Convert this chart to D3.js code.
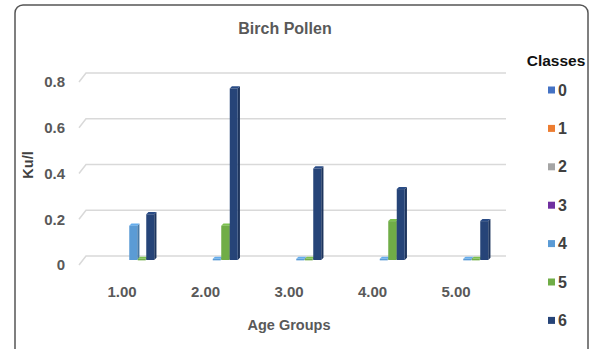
<!DOCTYPE html>
<html><head><meta charset="utf-8">
<script src="https://cdn.jsdelivr.net/npm/d3@7"></script>
<style>body{margin:0;background:#fff}svg{display:block;font-family:"Liberation Sans",Arial,sans-serif}</style>
</head><body><svg id="c" width="597" height="349"></svg>
<script>
const categories = ["1.00","2.00","3.00","4.00","5.00"];
const classes = ["0","1","2","3","4","5","6"];
const classColors = ["#4472C4","#ED7D31","#A5A5A5","#7030A0","#5B9BD5","#70AD47","#264478"];
// values[class][category]
const class0 = [0,0,0,0,0];
const class1 = [0,0,0,0,0];
const class2 = [0,0,0,0,0];
const class3 = [0,0,0,0,0];
const class4 = [0.15,0.005,0.005,0.005,0.005];
const class5 = [0.005,0.15,0.005,0.17,0.005];
const class6 = [0.2,0.75,0.4,0.31,0.17];
const series = [class0,class1,class2,class3,class4,class5,class6];
const yTicks = [0,0.2,0.4,0.6,0.8];
const yTickLabels = ["0","0.2","0.4","0.6","0.8"];

const svg = d3.select("#c");
// frame
svg.append("rect").attr("x",15).attr("y",5).attr("width",573).attr("height",360)
  .attr("rx",8).attr("fill","#fff").attr("stroke","#555").attr("stroke-width",1.5);

const yG = d3.scaleLinear().domain([0,0.8]).range([256,73]);
const yB = d3.scaleLinear().domain([0,0.8]).range([260,77]);
const x0 = d3.scaleBand().domain(categories).range([80.25,497.75]);
const x1 = d3.scaleBand().domain(classes).range([0,59.5]);

// gridlines
const g = svg.append("g");
yTicks.forEach(v=>{
  g.append("path").attr("d",`M79,${yG(v)+9}L86,${yG(v)}L506,${yG(v)}`)
   .attr("fill","none").attr("stroke","#d9d9d9").attr("stroke-width",1.5);
});
// y tick labels
svg.append("g").selectAll("text").data(yTicks).join("text")
  .attr("x",65).attr("y",(d)=>yG(d)+9).attr("dy","0.35em").attr("text-anchor","end")
  .attr("font-size",15).attr("font-weight","bold").attr("fill","#595959").text((d,i)=>yTickLabels[i]);

// bars
const bars = svg.append("g");
const d = 2.2;
series.forEach((vals,ci)=>{
  const col = classColors[ci];
  vals.forEach((v,k)=>{
    if(v<=0) return;
    const bx = x0(categories[k]) + x0.bandwidth()/2 + 3 - 29.75 + x1(classes[ci]);
    const w = x1.bandwidth()-0.5;
    const top = yB(v), base = yB(0);
    const h = base-top;
    bars.append("path").attr("d",`M${bx+w},${top}L${bx+w+d},${top-d}L${bx+w+d},${base-d}L${bx+w},${base}Z`)
      .attr("fill",d3.color(col).darker(0.7));
    bars.append("path").attr("d",`M${bx},${top}L${bx+d},${top-d}L${bx+w+d},${top-d}L${bx+w},${top}Z`)
      .attr("fill",d3.color(col).brighter(0.3));
    bars.append("rect").attr("x",bx).attr("y",top).attr("width",w).attr("height",Math.max(h,1.5))
      .attr("fill",col);
  });
});

// x labels
svg.append("g").selectAll("text").data(categories).join("text")
  .attr("x",d=>x0(d)+x0.bandwidth()/2).attr("y",292).attr("dy","0.35em")
  .attr("text-anchor","middle").attr("font-size",15).attr("font-weight","bold").attr("fill","#595959").text(d=>d);

// titles
svg.append("text").attr("x",285).attr("y",28).attr("dy","0.35em").attr("text-anchor","middle")
  .attr("font-size",16).attr("font-weight","bold").attr("fill","#595959").text("Birch Pollen");
svg.append("text").attr("x",289).attr("y",325).attr("dy","0.35em").attr("text-anchor","middle")
  .attr("font-size",14.5).attr("font-weight","bold").attr("fill","#595959").text("Age Groups");
svg.append("text").attr("transform","translate(28,165) rotate(-90)").attr("dy","0.35em")
  .attr("text-anchor","middle").attr("font-size",14.5).attr("font-weight","bold").attr("fill","#404040").text("Ku/l");

// legend
svg.append("text").attr("x",556).attr("y",61).attr("dy","0.35em").attr("text-anchor","middle")
  .attr("font-size",15.5).attr("font-weight","bold").attr("fill","#111").text("Classes");
const lg = svg.append("g").selectAll("g").data(classes).join("g")
  .attr("transform",(d,i)=>`translate(548,${90+i*38.4})`);
lg.append("rect").attr("x",0).attr("y",-3.5).attr("width",7).attr("height",7).attr("fill",(d,i)=>classColors[i]);
lg.append("text").attr("x",10).attr("y",0).attr("dy","0.35em").attr("font-size",16).attr("font-weight","bold")
  .attr("fill","#404040").text(d=>d);
</script></body></html>
